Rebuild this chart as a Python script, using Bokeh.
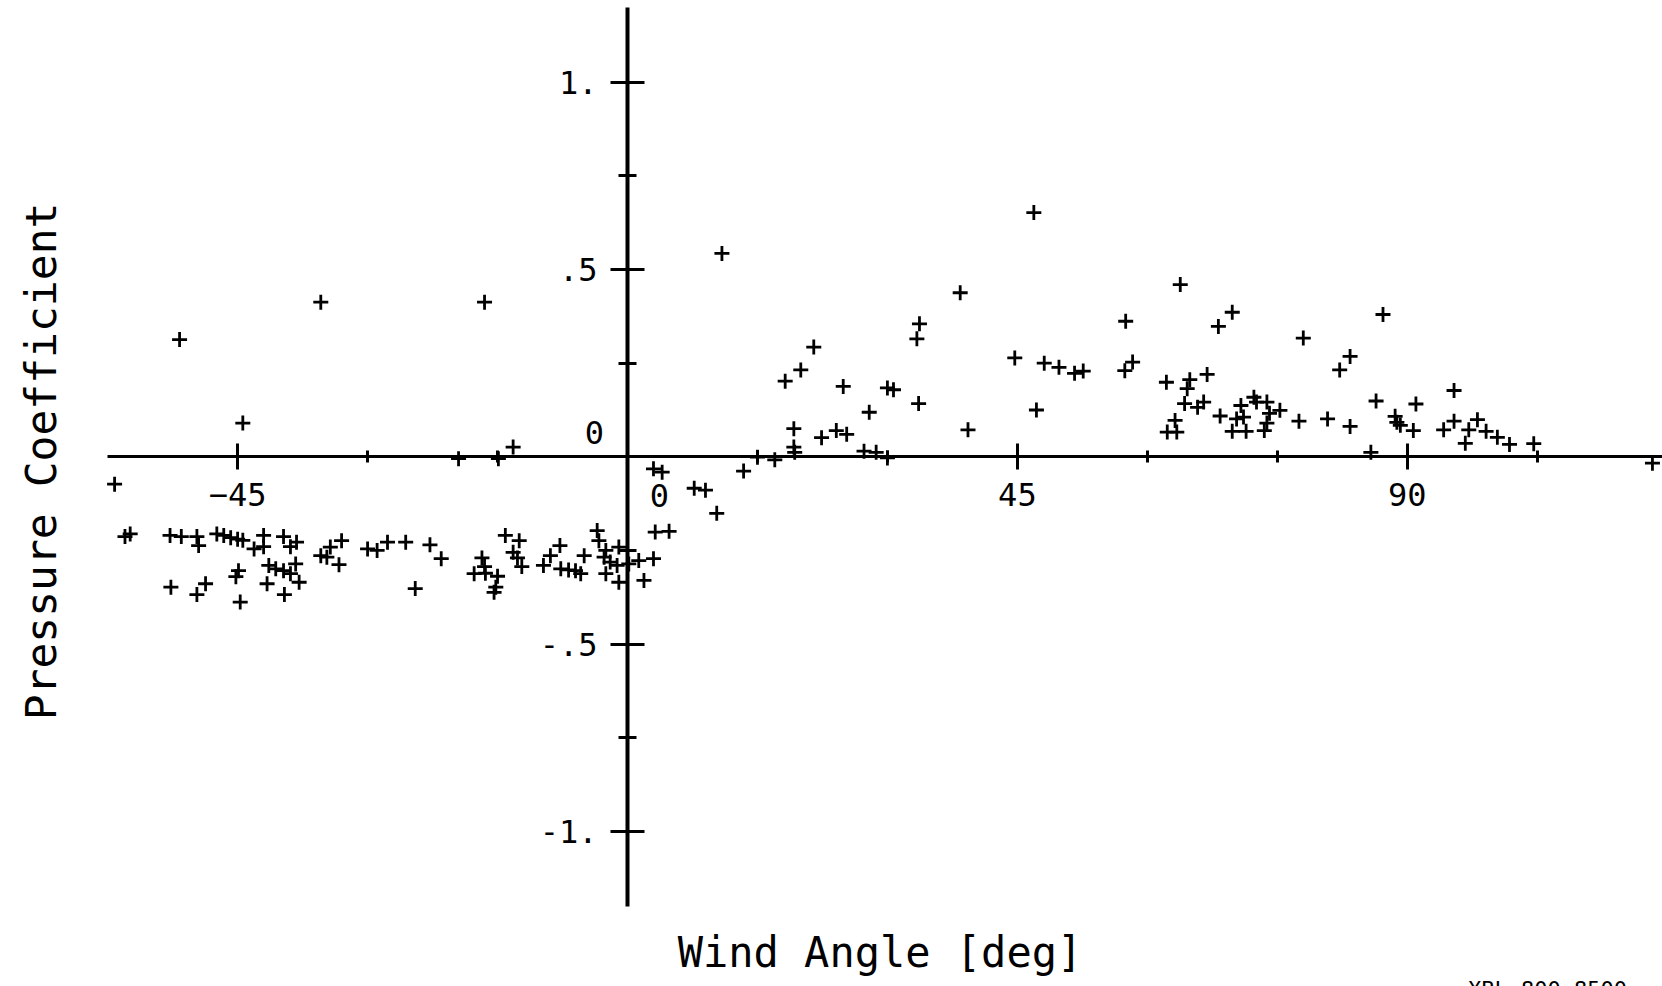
from bokeh.plotting import figure
from bokeh.models import Range1d, FixedTicker
from bokeh.embed import file_html
from bokeh.resources import INLINE
from bokeh.core.properties import value
import math

# ---- data: wind angle [deg] and pressure coefficient ----
angle = [
    -59.2, -58.0, -57.4, -52.8, -51.5, -49.7, -49.5, -47.4, -46.6, -45.8,
    -45.0, -44.4, -43.1, -42.0, -42.0, -39.7, -38.9, -38.2, -35.4, -34.7,
    -34.3, -33.0, -33.3, -30.0, -28.9, -27.7, -52.7, -49.7, -48.7, -45.2,
    -44.9, -44.7, -41.4, -40.6, -39.7, -38.9, -38.3, -41.6, -37.9, -39.6,
    -25.6, -22.8, -21.5, -24.5, -14.1, -12.5, -16.8, -16.5, -17.7, -16.4,
    -15.0, -15.2, -15.4, -13.2, -12.7, -12.2, -9.7, -8.9, -7.8, -7.7,
    -6.8, -6.0, -5.4, -5.0, -3.5, -3.3, -2.5, -2.7, -2.0, -2.5,
    -1.0, -1.2, -1.0, 0.0, 0.15, 1.3, 3.0, 1.9, 3.0, 4.0,
    3.2, 4.8, -19.5, -14.9, -13.2, -51.7, -35.4, -16.5, -44.4,
    7.7, 9.0, 10.3, 10.9, 13.4, 15.0, 17.0, 18.2, 20.0, 21.5,
    19.2, 19.2, 19.3, 22.4, 24.1, 25.3, 24.9, 27.9, 27.3, 28.7,
    30.0, 30.0, 30.7, 33.6, 33.4, 33.7, 38.4, 39.3, 46.9, 44.7,
    47.2, 48.1, 49.8, 51.6, 52.6, 57.5, 57.4, 58.3, 63.8, 69.8,
    68.2, 78.0, 62.2, 64.9, 64.6, 66.9, 64.3, 65.8, 66.5, 63.2,
    62.3, 63.4, 68.4, 70.3, 71.1, 70.8, 69.8, 71.4, 72.3, 72.6,
    73.8, 74.1, 73.8, 73.5, 75.3, 77.5, 87.2, 83.4, 82.2, 80.8,
    83.4, 86.4, 85.8, 88.6, 88.8, 89.2, 91.0, 90.7, 94.2, 95.4,
    95.4, 97.1, 96.7, 98.1, 99.1, 100.4, 101.8, 104.6, 118.3,
]
pressure_coeff = [
    -0.073, -0.213, -0.206, -0.210, -0.213, -0.213, -0.237, -0.206, -0.210, -0.216,
    -0.220, -0.223, -0.246, -0.210, -0.240, -0.213, -0.240, -0.228, -0.264, -0.268,
    -0.241, -0.224, -0.288, -0.246, -0.250, -0.228, -0.348, -0.368, -0.339, -0.320,
    -0.304, -0.388, -0.290, -0.299, -0.304, -0.312, -0.286, -0.339, -0.335, -0.368,
    -0.228, -0.235, -0.272, -0.352, -0.210, -0.224, -0.270, -0.293, -0.312, -0.311,
    -0.319, -0.348, -0.362, -0.255, -0.270, -0.293, -0.290, -0.264, -0.237, -0.299,
    -0.302, -0.304, -0.312, -0.264, -0.197, -0.224, -0.250, -0.268, -0.281, -0.312,
    -0.241, -0.290, -0.335, -0.250, -0.286, -0.277, -0.272, -0.330, -0.032, -0.041,
    -0.201, -0.199, -0.005, -0.005, 0.026, 0.313, 0.413, 0.413, 0.090,
    -0.084, -0.089, -0.151, 0.543, -0.038, -0.001, -0.008, 0.202, 0.232, 0.293,
    0.075, 0.026, 0.012, 0.051, 0.070, 0.060, 0.188, 0.119, 0.015, 0.012,
    -0.003, 0.184, 0.179, 0.142, 0.315, 0.355, 0.438, 0.072, 0.652, 0.264,
    0.125, 0.250, 0.239, 0.223, 0.229, 0.362, 0.230, 0.253, 0.460, 0.386,
    0.348, 0.317, 0.199, 0.206, 0.182, 0.220, 0.142, 0.132, 0.146, 0.097,
    0.066, 0.066, 0.109, 0.101, 0.106, 0.137, 0.068, 0.068, 0.159, 0.146,
    0.146, 0.116, 0.090, 0.070, 0.124, 0.095, 0.380, 0.268, 0.232, 0.101,
    0.081, 0.149, 0.012, 0.108, 0.092, 0.084, 0.141, 0.070, 0.072, 0.177,
    0.095, 0.072, 0.036, 0.099, 0.068, 0.052, 0.033, 0.035, -0.017,
]

# ---- ticks and tick labels ----
x_major_ticks = [-45, 45, 90]
x_minor_ticks = [-30, -15, 15, 30, 60, 75, 105]
y_major_ticks = [-1.0, -0.5, 0.5, 1.0]
y_minor_ticks = [-0.75, -0.25, 0.25, 0.75]
y_tick_labels = ["-1.", "-.5", ".5", "1."]
origin_label = "0"

FONT = "DejaVu Sans Mono"

p = figure(
    width=1662, height=986,
    x_range=Range1d(-72.368, 119.46),
    y_range=Range1d(-1.4144, 1.2184),
    output_backend="svg", toolbar_location=None,
    min_border=0, min_border_left=0, min_border_right=0,
    min_border_top=0, min_border_bottom=0,
)
p.outline_line_color = None
p.grid.visible = False
p.background_fill_color = "white"
p.border_fill_color = "white"

# axes crossing at the origin
xa = p.xaxis[0]
xa.fixed_location = 0
xa.bounds = (-60, 120)
xa.ticker = FixedTicker(ticks=x_major_ticks, minor_ticks=x_minor_ticks)
xa.axis_line_width = 3
xa.axis_line_color = "black"
xa.major_tick_line_width = 3
xa.minor_tick_line_width = 3
xa.major_tick_in = 13
xa.major_tick_out = 13
xa.minor_tick_in = 6
xa.minor_tick_out = 6
xa.major_label_standoff = 13
xa.major_label_text_font = FONT
xa.major_label_text_font_size = "32px"
xa.major_label_text_color = "black"

ya = p.yaxis[0]
ya.fixed_location = 0
ya.bounds = (-1.2, 1.2)
ya.ticker = FixedTicker(ticks=y_major_ticks, minor_ticks=y_minor_ticks)
ya.major_label_overrides = dict(zip(y_major_ticks, y_tick_labels))
ya.axis_line_width = 4
ya.axis_line_color = "black"
ya.major_tick_line_width = 3
ya.minor_tick_line_width = 3
ya.major_tick_in = 17
ya.major_tick_out = 17
ya.minor_tick_in = 9
ya.minor_tick_out = 9
ya.major_label_standoff = 13
ya.major_label_text_font = FONT
ya.major_label_text_font_size = "32px"
ya.major_label_text_color = "black"

# data points
p.scatter(angle, pressure_coeff, marker="cross", size=15, line_width=2.8,
          color="black")

# the two "0" labels at the origin (one per axis)
p.text(x=[0, 0], y=[0, 0], text=[origin_label, origin_label],
       x_offset=[32, -33], y_offset=[39, -24],
       text_font=value(FONT), text_font_size="32px", text_color="black",
       text_align="center", text_baseline="middle")

# axis titles
p.text(x=[29.14], y=[-1.3236], text=["Wind Angle [deg]"],
       text_font=value(FONT), text_font_size="42px", text_color="black",
       text_align="center", text_baseline="middle")
p.text(x=[-67.75], y=[-0.0125], text=["Pressure Coefficient"], angle=math.pi / 2,
       text_font=value(FONT), text_font_size="43px", text_color="black",
       text_align="center", text_baseline="middle")

# archive code at the bottom right (cut off by the page edge)
p.text(x=[106.19], y=[-1.3877], text=["XBL 800-8500"],
       text_font=value(FONT), text_font_size="22px", text_color="black",
       text_align="center", text_baseline="top")

open("out.html", "w").write(file_html(p, INLINE))
